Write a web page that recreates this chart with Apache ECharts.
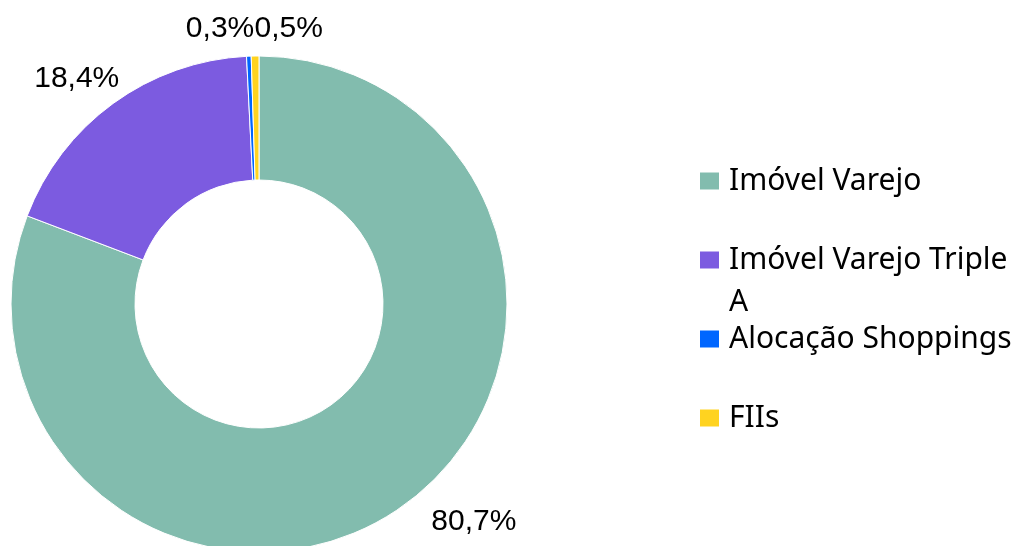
<!DOCTYPE html>
<html>
<head>
<meta charset="utf-8">
<script src="https://cdn.jsdelivr.net/npm/echarts@6/dist/echarts.min.js"></script>
<style>
  html, body { margin: 0; padding: 0; background: #fff; }
  #main { width: 1019px; height: 546px; }
</style>
</head>
<body>
<div id="main"></div>
<script>
var categories = ["Imóvel Varejo", "Imóvel Varejo Triple A", "Alocação Shoppings", "FIIs"];
var shares = [80.7, 18.4, 0.3, 0.5];
var colors = ["#82BCAE", "#7C5BE0", "#0066FF", "#FFD320"];

var chartDom = document.getElementById("main");
var myChart = echarts.init(chartDom);

var legendFont = "Noto Sans";
var legendTops = [159, 192, 317, 396];
// nudge outside labels to where the original put them
var labelNudge = [[18, 1], [20, -13], [11, -12], [73, -12]];

var legends = categories.map(function (name, i) {
  var lg = {
    data: [name],
    left: 693,
    top: legendTops[i],
    icon: "rect",
    itemWidth: 21,
    itemHeight: 19,
    selectedMode: false,
    textStyle: { fontFamily: legendFont, fontSize: 30, color: "#000", lineHeight: 34, padding: [0, 0, 0, 4] }
  };
  if (i === 1) {
    // wrapped item: empty first line keeps the icon on the first text line
    lg.formatter = function () { return "{s| }\n{t|Imóvel Varejo Triple}\n{t|A}"; };
    lg.textStyle.rich = {
      s: { fontSize: 30, lineHeight: 42, fontFamily: legendFont },
      t: { fontSize: 30, lineHeight: 42, fontFamily: legendFont, color: "#000" }
    };
  }
  return lg;
});

var option = {
  animation: false,
  legend: legends,
  series: [
    {
      type: "pie",
      center: [259, 304],
      radius: [124, 248],
      startAngle: 90,
      clockwise: true,
      avoidLabelOverlap: false,
      itemStyle: { borderColor: "#fff", borderWidth: 1 },
      label: {
        show: true,
        position: "outside",
        formatter: function (p) { return p.value.toFixed(1).replace(".", ",") + "%"; },
        fontFamily: "Liberation Sans",
        fontSize: 30,
        color: "#000",
        distanceToLabelLine: 5
      },
      labelLine: { show: false, length: 15, length2: 0 },
      labelLayout: function (p) {
        var n = labelNudge[p.dataIndex];
        return { hideOverlap: false, dx: n[0], dy: n[1] };
      },
      emphasis: { disabled: true },
      data: categories.map(function (name, i) {
        return { name: name, value: shares[i], itemStyle: { color: colors[i] } };
      })
    }
  ]
};

option && myChart.setOption(option);
</script>
</body>
</html>
